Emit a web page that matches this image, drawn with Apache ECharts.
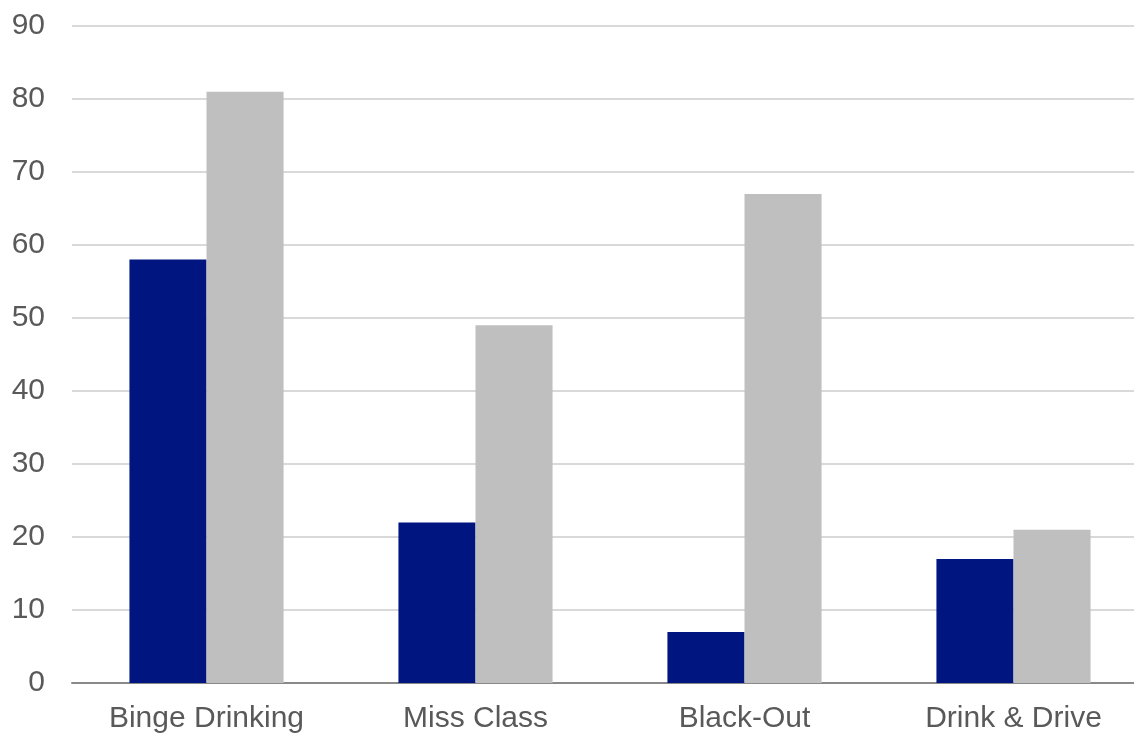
<!DOCTYPE html>
<html>
<head>
<meta charset="utf-8">
<script src="https://cdn.jsdelivr.net/npm/echarts@6/dist/echarts.min.js"></script>
<style>
  html, body { margin: 0; padding: 0; background: #fff; overflow: hidden; }
  /* the plot runs past the right edge of the picture */
  #chart { width: 1148px; height: 734px; }
</style>
</head>
<body>
<div id="chart"></div>
<script>
// 数据
var categories = ['Binge Drinking', 'Miss Class', 'Black-Out', 'Drink & Drive']
var seriesA = [58, 22, 7, 17]
var seriesB = [81, 49, 67, 21]
var yTicks = { min: 0, max: 90, interval: 10 }

var chart = echarts.init(document.getElementById('chart'))
var option = {
  animation: false,
  color: ['#001580', '#bfbfbf'],
  grid: { left: 72, right: 0, top: 26, bottom: 50, containLabel: false },
  xAxis: {
    type: 'category',
    data: categories,
    axisLine: { lineStyle: { color: '#898989', width: 2 } },
    axisTick: { show: false },
    axisLabel: {
      color: '#595959',
      fontSize: 30,
      fontFamily: 'Liberation Sans',
      margin: 21
    }
  },
  yAxis: {
    type: 'value',
    min: yTicks.min,
    max: yTicks.max,
    interval: yTicks.interval,
    axisLine: { show: false },
    axisTick: { show: false },
    axisLabel: {
      color: '#595959',
      fontSize: 30,
      fontFamily: 'Liberation Sans',
      margin: 27
    },
    splitLine: { lineStyle: { color: '#d9d9d9', width: 2 } }
  },
  series: [{
    name: 'A',
    type: 'bar',
    data: seriesA,
    barGap: '0%',
    barCategoryGap: '42.7%'
  }, {
    name: 'B',
    type: 'bar',
    data: seriesB,
    barGap: '0%',
    barCategoryGap: '42.7%'
  }]
}
chart.setOption(option)
</script>
</body>
</html>
